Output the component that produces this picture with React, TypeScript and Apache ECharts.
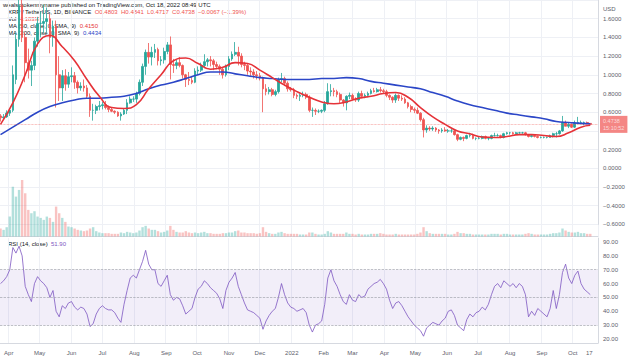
import React, { useEffect, useRef } from 'react';
import * as echarts from 'echarts';

// ---- axis / calendar ----
const START_Y = 2021, START_M = 2, START_D = 24; // 2021-03-24
const TOTAL_DAYS = 581;       // through 2022-10-25 (empty right margin)
const BAR_STEP = 3;            // each candle = 3 days
const MONTHS = ['Jan','Feb','Mar','Apr','May','Jun','Jul','Aug','Sep','Oct','Nov','Dec'];
const PRICE_TICKS_HIDDEN = [1.8, 0.4];

// ---- price candles [open, close, low, high], one per 3 days from 2021-03-24 ----
const ohlc: number[][] = [
  [0.56,0.54,0.50,0.58],[0.54,0.55,0.52,0.58],[0.55,0.59,0.54,0.62],[0.59,0.62,0.56,0.64],
  [0.62,1.00,0.60,1.10],[0.95,1.38,0.90,1.45],[1.38,1.74,1.30,1.80],[1.74,1.40,1.35,1.96],
  [1.40,1.13,0.92,1.45],[1.13,1.05,0.96,1.28],[1.05,1.10,0.88,1.15],[1.10,1.36,1.05,1.40],
  [1.36,1.55,1.30,1.62],[1.55,1.55,1.40,1.68],[1.55,1.57,1.45,1.75],[1.57,1.60,1.45,1.72],
  [1.60,1.40,1.23,1.65],[1.40,1.52,1.30,1.58],[1.52,1.00,0.65,1.58],[1.00,0.86,0.72,1.20],
  [0.86,0.99,0.72,1.05],[0.99,0.90,0.83,1.06],[0.90,0.98,0.86,1.03],[0.98,0.99,0.92,1.08],
  [0.99,0.92,0.85,1.03],[0.92,0.86,0.80,0.94],[0.86,0.88,0.83,0.92],[0.88,0.86,0.82,0.95],
  [0.86,0.77,0.75,0.89],[0.77,0.62,0.55,0.80],[0.62,0.62,0.51,0.69],[0.62,0.66,0.58,0.68],
  [0.66,0.67,0.62,0.72],[0.67,0.68,0.63,0.71],[0.68,0.65,0.63,0.72],[0.65,0.63,0.60,0.67],
  [0.63,0.61,0.60,0.65],[0.61,0.60,0.58,0.62],[0.60,0.56,0.55,0.61],[0.56,0.58,0.51,0.60],
  [0.58,0.62,0.57,0.64],[0.62,0.70,0.58,0.74],[0.70,0.74,0.69,0.77],[0.74,0.74,0.71,0.77],
  [0.74,0.80,0.70,0.82],[0.80,0.92,0.78,0.95],[0.92,1.09,0.88,1.12],[1.09,1.24,1.00,1.27],
  [1.24,1.19,1.12,1.34],[1.19,1.24,1.10,1.30],[1.24,1.27,1.18,1.33],[1.27,1.15,1.10,1.29],
  [1.15,1.16,1.10,1.20],[1.16,1.25,1.12,1.29],[1.25,1.32,1.22,1.35],[1.32,1.11,0.95,1.41],
  [1.11,1.10,1.02,1.17],[1.10,1.13,1.06,1.16],[1.13,1.10,1.08,1.19],[1.10,1.00,0.96,1.11],
  [1.00,0.95,0.87,1.01],[0.95,0.94,0.89,1.03],[0.94,0.92,0.90,0.98],[0.92,1.04,0.91,1.07],
  [1.04,1.05,1.00,1.09],[1.05,1.10,1.03,1.13],[1.10,1.14,1.07,1.22],[1.14,1.16,1.09,1.18],
  [1.16,1.15,1.09,1.20],[1.15,1.11,1.05,1.17],[1.11,1.09,1.06,1.14],[1.09,1.06,1.00,1.11],
  [1.06,1.00,0.96,1.08],[1.00,1.09,0.98,1.11],[1.09,1.17,1.05,1.20],[1.17,1.22,1.15,1.25],
  [1.22,1.24,1.20,1.35],[1.24,1.20,1.10,1.30],[1.20,1.11,1.08,1.23],[1.11,1.10,1.05,1.14],
  [1.10,1.04,1.00,1.12],[1.04,1.03,0.98,1.08],[1.03,1.00,0.96,1.06],[1.00,0.99,0.95,1.04],
  [0.99,0.97,0.94,1.02],[0.97,0.85,0.60,0.98],[0.85,0.82,0.78,0.90],[0.82,0.84,0.79,0.87],
  [0.84,0.79,0.77,0.86],[0.79,0.82,0.77,0.84],[0.82,0.95,0.80,0.97],[0.95,0.96,0.92,1.02],
  [0.96,0.91,0.88,0.98],[0.91,0.85,0.82,0.93],[0.85,0.84,0.82,0.87],[0.84,0.78,0.75,0.86],
  [0.78,0.77,0.74,0.80],[0.77,0.78,0.72,0.80],[0.78,0.79,0.76,0.82],[0.79,0.76,0.74,0.81],
  [0.76,0.62,0.60,0.78],[0.62,0.62,0.55,0.65],[0.62,0.61,0.57,0.64],[0.61,0.61,0.59,0.63],
  [0.61,0.62,0.59,0.63],[0.62,0.69,0.60,0.72],[0.69,0.82,0.68,0.91],[0.82,0.83,0.77,0.90],
  [0.83,0.82,0.77,0.86],[0.82,0.79,0.76,0.84],[0.79,0.73,0.70,0.81],[0.73,0.70,0.66,0.74],
  [0.70,0.77,0.62,0.78],[0.77,0.78,0.74,0.81],[0.78,0.74,0.73,0.80],[0.74,0.73,0.71,0.76],
  [0.73,0.80,0.71,0.82],[0.80,0.77,0.75,0.83],[0.77,0.78,0.75,0.80],[0.78,0.80,0.76,0.82],
  [0.80,0.83,0.79,0.85],[0.83,0.82,0.81,0.86],[0.82,0.84,0.81,0.86],[0.84,0.83,0.81,0.87],
  [0.83,0.82,0.80,0.85],[0.82,0.78,0.76,0.84],[0.78,0.76,0.73,0.79],[0.76,0.73,0.70,0.77],
  [0.73,0.78,0.70,0.80],[0.78,0.75,0.72,0.79],[0.75,0.74,0.72,0.78],[0.74,0.70,0.69,0.76],
  [0.70,0.66,0.64,0.71],[0.66,0.63,0.60,0.68],[0.63,0.62,0.59,0.65],[0.62,0.59,0.58,0.65],
  [0.59,0.52,0.50,0.60],[0.52,0.41,0.33,0.54],[0.41,0.43,0.38,0.46],[0.43,0.42,0.40,0.45],
  [0.42,0.43,0.40,0.45],[0.43,0.41,0.39,0.44],[0.41,0.40,0.37,0.42],[0.40,0.41,0.38,0.43],
  [0.41,0.40,0.39,0.44],[0.40,0.40,0.38,0.42],[0.40,0.40,0.38,0.42],[0.40,0.36,0.35,0.41],
  [0.36,0.31,0.29,0.37],[0.31,0.33,0.30,0.34],[0.33,0.32,0.29,0.34],[0.32,0.35,0.31,0.36],
  [0.35,0.35,0.33,0.38],[0.35,0.32,0.31,0.37],[0.32,0.32,0.30,0.33],[0.32,0.32,0.31,0.34],
  [0.32,0.34,0.31,0.35],[0.34,0.32,0.31,0.35],[0.32,0.32,0.30,0.33],[0.32,0.35,0.31,0.36],
  [0.35,0.35,0.34,0.38],[0.35,0.35,0.34,0.37],[0.35,0.33,0.32,0.36],[0.33,0.37,0.32,0.38],
  [0.37,0.38,0.36,0.39],[0.38,0.38,0.36,0.39],[0.38,0.37,0.36,0.39],[0.37,0.38,0.37,0.39],
  [0.38,0.38,0.37,0.39],[0.38,0.38,0.37,0.39],[0.38,0.36,0.35,0.39],[0.36,0.34,0.33,0.36],
  [0.34,0.35,0.33,0.36],[0.35,0.34,0.33,0.35],[0.34,0.33,0.32,0.35],[0.33,0.33,0.32,0.34],
  [0.33,0.33,0.32,0.34],[0.33,0.33,0.32,0.34],[0.33,0.35,0.33,0.36],[0.35,0.37,0.33,0.38],
  [0.37,0.37,0.33,0.39],[0.37,0.40,0.36,0.41],[0.40,0.49,0.39,0.56],[0.49,0.45,0.45,0.51],
  [0.45,0.47,0.43,0.49],[0.47,0.44,0.43,0.48],[0.44,0.48,0.43,0.51],[0.48,0.49,0.47,0.55],
  [0.49,0.49,0.47,0.51],[0.49,0.49,0.46,0.50],[0.49,0.48,0.47,0.50],[0.48,0.47,0.47,0.48],
];

// ---- volume (relative units, axis max 100), one per candle ----
const volume: number[] = [
  12,10,14,30,75,60,70,85,65,40,35,38,30,28,25,30,28,22,45,35,28,22,15,14,12,10,9,8,9,12,
  14,8,6,5,5,5,4,4,4,6,5,7,6,5,6,9,14,16,12,10,10,8,6,7,9,16,10,7,6,6,
  8,6,5,6,5,6,7,5,5,4,4,4,5,5,6,6,8,9,6,6,5,5,5,4,5,14,7,5,4,4,
  6,7,5,4,4,4,4,3,3,3,6,6,4,3,3,4,8,6,4,4,4,4,6,4,4,3,4,3,3,3,
  4,4,4,5,4,3,3,3,4,3,3,3,3,3,3,4,6,14,8,5,4,4,4,4,4,3,3,4,7,5,
  5,4,4,3,3,3,3,3,3,4,4,4,3,4,4,3,3,3,3,3,4,5,4,3,3,3,3,3,4,5,
  5,6,12,9,7,6,6,7,5,5,4,4,
];

// ---- RSI (14), one per candle ----
const rsi: number[] = [
  60,62,65,70,86,82,87,80,58,52,47,60,65,62,60,57,50,55,40,36,44,42,46,47,43,41,43,42,38,29,
  31,38,42,44,42,41,41,39,35,32,45,55,64,66,64,70,76,84,74,70,70,60,58,62,66,52,48,50,49,44,
  38,40,42,50,56,58,62,60,57,55,53,49,42,55,61,64,68,58,52,46,41,40,39,37,35,27,33,37,40,42,
  50,60,52,46,43,42,40,41,42,39,30,25,30,31,33,45,64,70,62,58,52,47,45,52,48,47,52,50,51,56,
  58,60,61,63,60,56,48,42,46,47,44,40,36,33,30,28,26,22,28,30,32,31,30,33,35,40,41,37,30,28,
  26,34,38,36,39,40,43,41,45,52,58,60,57,62,60,58,60,57,60,58,52,36,40,37,42,40,38,36,42,55,
  42,52,68,74,64,60,66,69,60,56,54,52,
];

// ---- moving averages, sampled every 12 days (last sample = last candle) ----
const maSampleDays: number[] = [
  0,12,24,36,48,60,72,84,96,108,120,132,144,156,168,180,192,204,216,228,240,252,264,276,288,
  300,312,324,336,348,360,372,384,396,408,420,432,444,456,468,480,492,504,516,528,540,552,564,573,
];
const ma50: number[] = [
  0.47,0.70,1.00,1.33,1.42,1.30,1.15,0.95,0.77,0.65,0.64,0.68,0.85,1.00,1.15,1.18,1.12,1.06,1.08,1.13,
  1.12,1.05,0.97,0.89,0.82,0.76,0.71,0.69,0.71,0.75,0.77,0.80,0.81,0.76,0.65,0.55,0.47,0.40,0.37,0.335,
  0.33,0.34,0.36,0.36,0.35,0.34,0.38,0.44,0.46,
];
const ma200: number[] = [
  0.36,0.44,0.52,0.60,0.66,0.70,0.73,0.75,0.75,0.76,0.77,0.80,0.85,0.89,0.92,0.96,1.00,1.03,1.03,1.01,
  0.99,0.97,0.96,0.95,0.95,0.95,0.96,0.96,0.97,0.96,0.93,0.91,0.89,0.87,0.85,0.81,0.77,0.72,0.68,0.65,
  0.62,0.59,0.57,0.55,0.53,0.50,0.49,0.48,0.475,
];

const LAST_PRICE = 0.4738;
const FONT = 'Liberation Sans, Arial, sans-serif';
const UP = '#26a69a';
const DOWN = '#ef5350';
const AXIS_TEXT = '#5d606b';
const GRID_LINE = '#eef0f5';

function dayDate(d: number) {
  return new Date(Date.UTC(START_Y, START_M, START_D + d));
}

export default function App() {
  const ref = useRef<HTMLDivElement>(null);

  useEffect(() => {
    if (!ref.current) return;
    const chart = echarts.init(ref.current, undefined, { renderer: 'svg' });

    const categories: string[] = [];
    for (let d = 0; d < TOTAL_DAYS; d++) categories.push(dayDate(d).toISOString().slice(0, 10));

    const labelOf = (value: string) => {
      const [y, m, d] = value.split('-').map(Number);
      if (d === 1) return m === 1 ? String(y) : MONTHS[m - 1];
      if (y === 2022 && m === 10 && d === 17) return '17';
      return '';
    };
    const isMonthStart = (_i: number, value: string) => value.endsWith('-01');
    const isLabel = (_i: number, value: string) => labelOf(value) !== '';

    const candleData = ohlc.map((r, i) => [i * BAR_STEP, r[0], r[1], r[2], r[3]]);
    const volData = volume.map((v, i) => ({
      value: [i * BAR_STEP, v],
      itemStyle: { color: ohlc[i][1] >= ohlc[i][0] ? 'rgba(38,166,154,0.35)' : 'rgba(239,83,80,0.35)' },
    }));
    const rsiData = rsi.map((v, i) => [i * BAR_STEP, v]);
    const ma50Data = ma50.map((v, i) => [maSampleDays[i], v]);
    const ma200Data = ma200.map((v, i) => [maSampleDays[i], v]);

    const baseX = (gridIndex: number, showLabels: boolean, showLine: boolean) => ({
      type: 'category' as const,
      gridIndex,
      data: categories,
      boundaryGap: true,
      axisTick: { show: false },
      axisLine: { show: showLine, lineStyle: { color: '#d6d9e0', width: 1 } },
      axisLabel: {
        show: showLabels,
        interval: isLabel,
        formatter: (v: string) => labelOf(v),
        color: AXIS_TEXT,
        fontSize: 6,
        fontFamily: FONT,
        margin: 7,
      },
      splitLine: { show: true, interval: isMonthStart, lineStyle: { color: GRID_LINE, width: 1 } },
    });

    const option: any = {
      animation: false,
      backgroundColor: '#ffffff',
      grid: [
        { left: 0, right: 37, top: 0, height: 224.4 },
        { left: 0, right: 37, top: 170, height: 66.5 },
        { left: 0, right: 37, top: 238, height: 105 },
      ],
      xAxis: [baseX(0, false, false), baseX(1, false, true), baseX(2, true, true)],
      yAxis: [
        {
          type: 'value', gridIndex: 0, position: 'right', min: -0.6, max: 1.8, interval: 0.2,
          axisLine: { show: true, lineStyle: { color: '#d6d9e0' } },
          axisTick: { show: false },
          splitLine: { lineStyle: { color: GRID_LINE } },
          axisLabel: {
            color: AXIS_TEXT, fontSize: 6, fontFamily: FONT, margin: 5,
            formatter: (v: number) => {
              if (PRICE_TICKS_HIDDEN.some((h) => Math.abs(h - v) < 1e-6)) return '';
              return (v < -1e-9 ? '−' : '') + Math.abs(v).toFixed(4);
            },
          },
        },
        { type: 'value', gridIndex: 1, min: 0, max: 100, show: false, splitLine: { show: false } },
        {
          type: 'value', gridIndex: 2, position: 'right', min: 17.1, max: 92.9, splitNumber: 8,
          axisLine: { show: true, lineStyle: { color: '#d6d9e0' } },
          axisTick: { show: false },
          splitLine: { show: false },
          axisLabel: {
            color: AXIS_TEXT, fontSize: 6, fontFamily: FONT, margin: 5,
            showMinLabel: false, showMaxLabel: false,
            formatter: (v: number) => v.toFixed(2),
          },
        },
      ],
      series: [
        {
          type: 'bar', name: 'Vol', xAxisIndex: 1, yAxisIndex: 1, data: volData,
          barWidth: 2.4, z: 1,
        },
        {
          type: 'candlestick', name: 'XRP', xAxisIndex: 0, yAxisIndex: 0,
          data: candleData, encode: { x: 0, y: [1, 2, 3, 4] },
          barWidth: 2.2, z: 3,
          itemStyle: { color: UP, color0: DOWN, borderColor: UP, borderColor0: DOWN, borderWidth: 0.8 },
          markLine: {
            silent: true, symbol: 'none',
            lineStyle: { color: DOWN, type: 'dotted', width: 0.7, opacity: 0.7 },
            label: {
              show: true, position: 'end', distance: 2,
              formatter: LAST_PRICE.toFixed(4) + '\n15:10:52',
              backgroundColor: DOWN, color: '#fff', fontSize: 5.5, fontFamily: FONT,
              padding: [2, 3], lineHeight: 6.5,
            },
            data: [{ yAxis: LAST_PRICE }],
          },
        },
        {
          type: 'line', name: 'MA 200', xAxisIndex: 0, yAxisIndex: 0, data: ma200Data,
          smooth: true, showSymbol: false, z: 4,
          lineStyle: { color: '#2b46c7', width: 1.6 },
        },
        {
          type: 'line', name: 'MA 50', xAxisIndex: 0, yAxisIndex: 0, data: ma50Data,
          smooth: true, showSymbol: false, z: 5,
          lineStyle: { color: '#e53238', width: 1.6 },
        },
        {
          type: 'line', name: 'RSI', xAxisIndex: 2, yAxisIndex: 2, data: rsiData,
          showSymbol: false, z: 4,
          lineStyle: { color: '#7e57c2', width: 0.8 },
          markArea: {
            silent: true,
            itemStyle: { color: 'rgba(126,87,194,0.1)' },
            data: [[{ yAxis: 30 }, { yAxis: 70 }]],
          },
          markLine: {
            silent: true, symbol: 'none',
            label: { show: false },
            lineStyle: { color: '#9598a1', type: 'dashed', width: 0.6 },
            data: [{ yAxis: 70 }, { yAxis: 50 }, { yAxis: 30 }],
          },
        },
      ],
      graphic: [
        {
          type: 'text', left: 3, top: 2,
          style: { text: 'wealsotokenmyname published on TradingView.com, Oct 18, 2022 08:49 UTC', fill: '#131722', fontSize: 6, fontFamily: FONT },
        },
        {
          type: 'text', left: 8, top: 9,
          style: {
            text: '{a|XRP / TetherUS, 1D, BINANCE}  {r|O0.4803  H0.4841  L0.4717  C0.4738  −0.0067 (−1.39%)}',
            fontSize: 6, fontFamily: FONT,
            rich: { a: { fill: '#131722', fontSize: 6, fontFamily: FONT }, r: { fill: DOWN, fontSize: 6, fontFamily: FONT } },
          },
        },
        {
          type: 'text', left: 8, top: 16,
          style: {
            text: '{a|Vol}  {r|4.183M}', fontSize: 6, fontFamily: FONT,
            rich: { a: { fill: '#131722', fontSize: 6, fontFamily: FONT }, r: { fill: DOWN, fontSize: 6, fontFamily: FONT } },
          },
        },
        {
          type: 'text', left: 8, top: 23,
          style: {
            text: '{a|MA (50, close, 0, SMA, 9)}  {r|0.4150}', fontSize: 6, fontFamily: FONT,
            rich: { a: { fill: '#131722', fontSize: 6, fontFamily: FONT }, r: { fill: '#e53238', fontSize: 6, fontFamily: FONT } },
          },
        },
        {
          type: 'text', left: 8, top: 30,
          style: {
            text: '{a|MA (200, close, 0, SMA, 9)}  {r|0.4434}', fontSize: 6, fontFamily: FONT,
            rich: { a: { fill: '#131722', fontSize: 6, fontFamily: FONT }, r: { fill: '#2b46c7', fontSize: 6, fontFamily: FONT } },
          },
        },
        {
          type: 'text', left: 8, top: 241,
          style: {
            text: '{a|RSI (14, close)}  {r|51.90}', fontSize: 6, fontFamily: FONT,
            rich: { a: { fill: '#131722', fontSize: 6, fontFamily: FONT }, r: { fill: '#7e57c2', fontSize: 6, fontFamily: FONT } },
          },
        },
        {
          type: 'text', left: 603, top: 6,
          style: { text: 'USD', fill: AXIS_TEXT, fontSize: 6, fontFamily: FONT },
        },
      ],
    };

    chart.setOption(option);
    return () => chart.dispose();
  }, []);

  return (
    <div
      ref={ref}
      style={{ position: 'fixed', left: 0, top: 0, width: 635, height: 363, background: '#fff' }}
    />
  );
}
